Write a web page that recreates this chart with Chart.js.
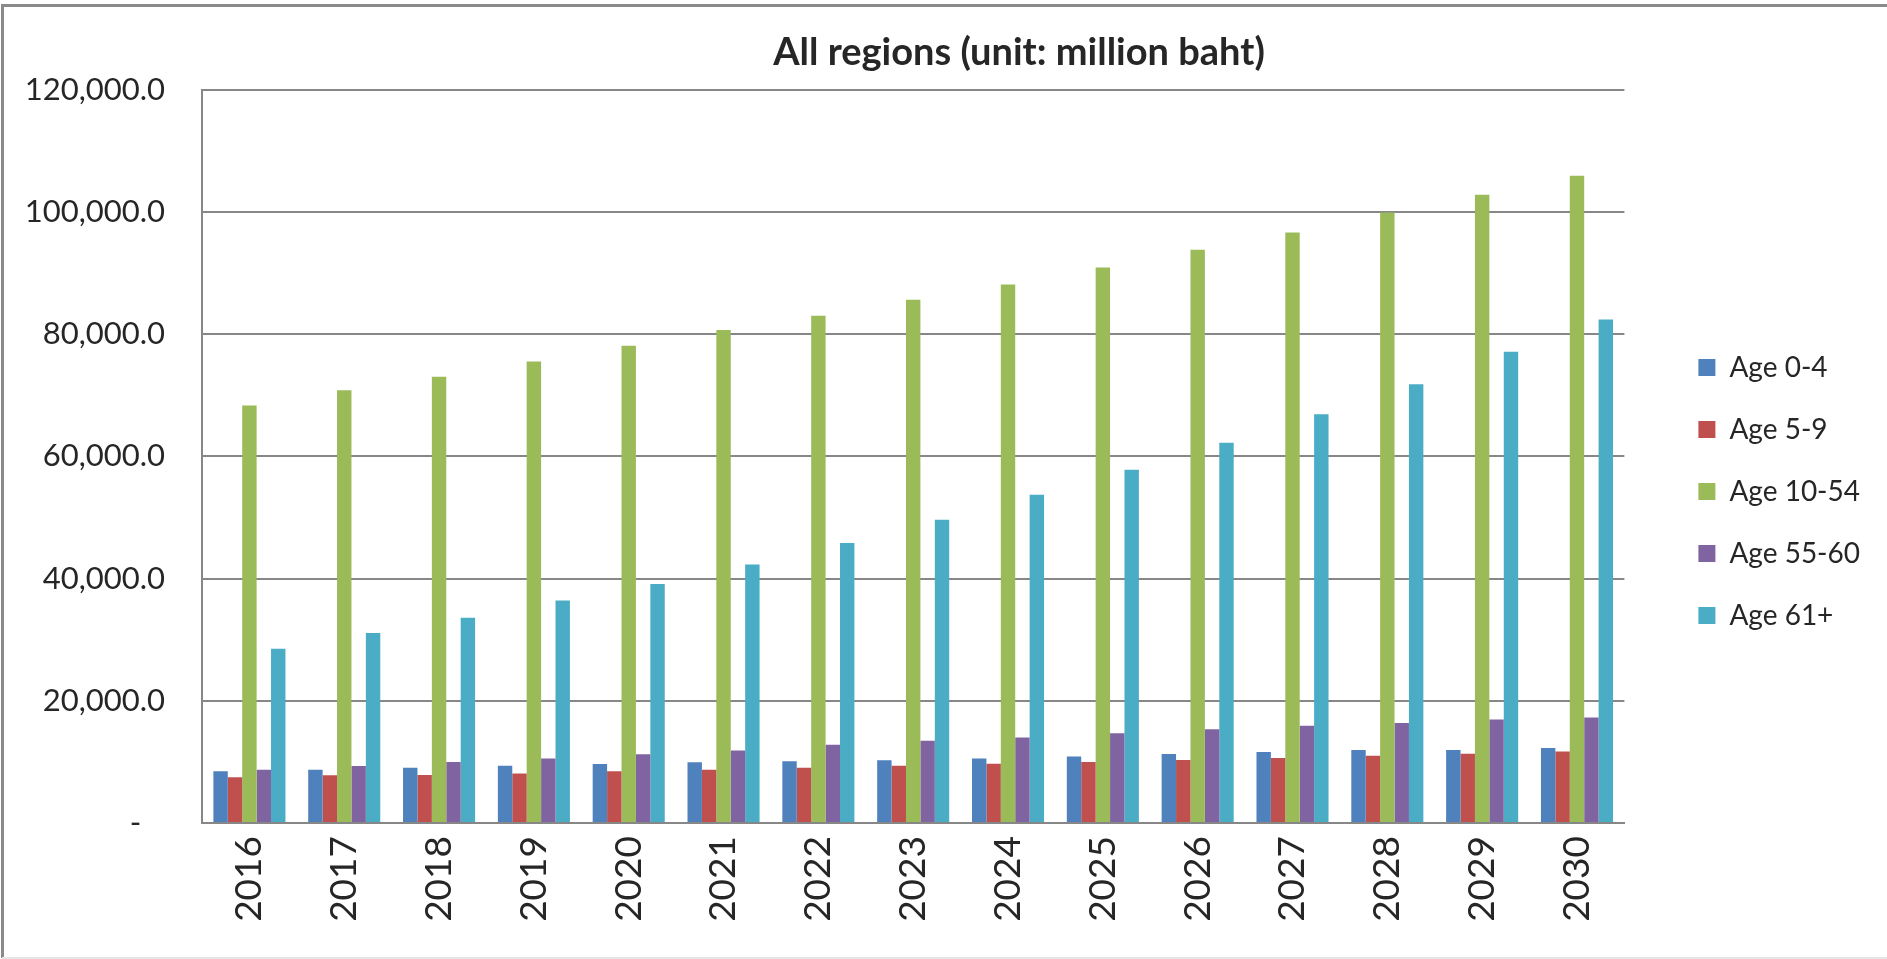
<!DOCTYPE html>
<html>
<head>
<meta charset="utf-8">
<script src="https://cdn.jsdelivr.net/npm/chart.js@4.4.1/dist/chart.umd.min.js"></script>
<style>
  html, body { margin: 0; padding: 0; background: #fff; overflow: hidden; }
  #wrap { position: relative; width: 1887px; height: 959px; }
  canvas { display: block; }
</style>
</head>
<body>
<div id="wrap"><canvas id="c" width="1887" height="959"></canvas></div>
<script>
const years = ['2016','2017','2018','2019','2020','2021','2022','2023','2024','2025','2026','2027','2028','2029','2030'];
const age0to4   = [8450, 8720, 9050, 9350, 9650, 9950, 10100, 10250, 10570, 10900, 11280, 11600, 11950, 11950, 12260];
const age5to9   = [7470, 7800, 7850, 8100, 8450, 8720, 9050, 9370, 9700, 9975, 10300, 10630, 11000, 11330, 11700];
const age10to54 = [68300, 70800, 73000, 75500, 78100, 80650, 83000, 85600, 88100, 90900, 93800, 96600, 99900, 102800, 105900];
const age55to60 = [8720, 9320, 9975, 10570, 11230, 11880, 12800, 13460, 14000, 14700, 15320, 15900, 16350, 16950, 17270];
const age61plus = [28500, 31100, 33600, 36400, 39100, 42300, 45800, 49600, 53700, 57800, 62200, 66900, 71800, 77100, 82400];
const seriesNames = ['Age 0-4', 'Age 5-9', 'Age 10-54', 'Age 55-60', 'Age 61+'];
const yTicks = [0, 20000, 40000, 60000, 80000, 100000, 120000];
const titleText = 'All regions (unit: million baht)';

const colors = ['#4F81BD', '#C0504D', '#9BBB59', '#8064A2', '#4BACC6'];
const seriesData = [age0to4, age5to9, age10to54, age55to60, age61plus];
const gridColor = '#878787';
const textColor = '#262626';
const FONT = 'Lato, Calibri, Carlito, sans-serif';

const frame = {
  id: 'frame',
  beforeDraw(chart) {
    const ctx = chart.ctx;
    ctx.save();
    ctx.fillStyle = '#ffffff';
    ctx.fillRect(0, 0, chart.width, chart.height);
    ctx.strokeStyle = '#8a8a8a';
    ctx.lineWidth = 3;
    ctx.beginPath();
    ctx.moveTo(2.5, 958);
    ctx.lineTo(2.5, 5.5);
    ctx.lineTo(1887, 5.5);
    ctx.stroke();
    ctx.strokeStyle = '#e6e6e6';
    ctx.lineWidth = 2;
    ctx.beginPath();
    ctx.moveTo(2, 958);
    ctx.lineTo(1887, 958);
    ctx.stroke();
    ctx.restore();
  }
};

// place title over the whole chart frame and move the legend to the right of the plot gap
const placeBoxes = {
  id: 'placeBoxes',
  afterLayout(chart) {
    const t = chart.titleBlock;
    if (t) { const c = 1019, half = 800; t.left = c - half; t.right = c + half; t.width = 2 * half; }
    const lg = chart.legend;
    if (lg) { lg.left += 40; lg.right += 40; lg.top += 12; lg.bottom += 12; }
  }
};

new Chart(document.getElementById('c'), {
  type: 'bar',
  data: {
    labels: years,
    datasets: seriesNames.map((n, i) => ({
      label: n,
      data: seriesData[i],
      backgroundColor: colors[i],
      borderWidth: 0,
      categoryPercentage: 0.76,
      barPercentage: 1.0
    }))
  },
  options: {
    responsive: false,
    animation: false,
    devicePixelRatio: 1,
    layout: { padding: { left: 12, right: 57, top: 0, bottom: 0 } },
    plugins: {
      title: {
        display: true,
        text: titleText,
        color: textColor,
        font: { family: FONT, size: 38, weight: 'bold' },
        padding: { top: 30, bottom: 14 }
      },
      legend: {
        position: 'right',
        align: 'center',
        labels: {
          color: textColor,
          font: { family: FONT, size: 28 },
          boxWidth: 17,
          boxHeight: 17,
          padding: 34
        }
      },
      tooltip: { enabled: false }
    },
    scales: {
      x: {
        grid: { display: false, drawTicks: false },
        border: { display: true, color: gridColor, width: 2 },
        ticks: {
          color: textColor,
          font: { family: FONT, size: 37 },
          minRotation: 90,
          maxRotation: 90,
          padding: 13,
          autoSkip: false
        },
        afterFit(scale) { scale.height = 136; }
      },
      y: {
        min: 0,
        max: 120000,
        afterBuildTicks(scale) { scale.ticks = yTicks.map(v => ({ value: v })); },
        grid: { color: gridColor, lineWidth: 2, drawTicks: false },
        border: { display: true, color: gridColor, width: 2 },
        ticks: {
          color: textColor,
          font: { family: FONT, size: 31 },
          padding: 37,
          callback(v) {
            if (v === 0) return '-   ';
            return v.toLocaleString('en-US', { minimumFractionDigits: 1, maximumFractionDigits: 1 });
          }
        },
        afterFit(scale) { scale.width = 190; }
      }
    }
  },
  plugins: [frame, placeBoxes]
});
</script>
</body>
</html>
